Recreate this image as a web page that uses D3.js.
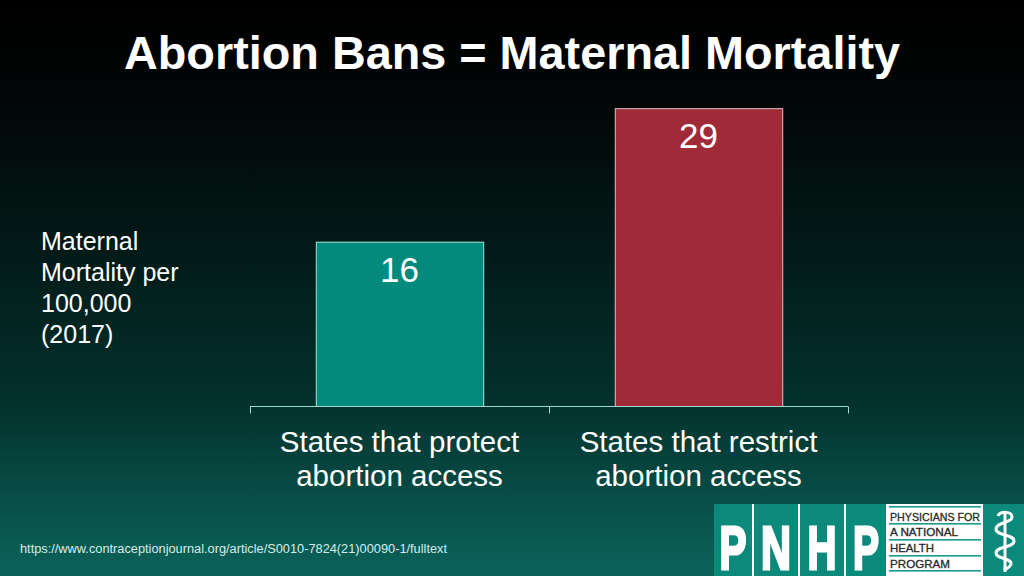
<!DOCTYPE html>
<html>
<head>
<meta charset="utf-8">
<script src="https://cdn.jsdelivr.net/npm/d3@7"></script>
<style>
  html, body { margin: 0; padding: 0; background: #000; }
  svg { display: block; }
</style>
</head>
<body>
<svg id="chart" width="1024" height="576"></svg>
<script>
const categories = ["States that protect abortion access", "States that restrict abortion access"];
const categoryLines = [["States that protect", "abortion access"], ["States that restrict", "abortion access"]];
const values = [16, 29];
const barColors = ["#028a7c", "#a12a38"];
const barStrokes = ["#a6e6dc", "#d9c3c3"];
const titleText = "Abortion Bans = Maternal Mortality";
const yLabelLines = ["Maternal", "Mortality per", "100,000", "(2017)"];
const sourceText = "https://www.contraceptionjournal.org/article/S0010-7824(21)00090-1/fulltext";
const logoLetters = ["P", "N", "H", "P"];
const logoWords = ["PHYSICIANS FOR", "A NATIONAL", "HEALTH", "PROGRAM"];

const svg = d3.select("#chart");
const W = 1024, H = 576;
const font = "'Liberation Sans', Arial, Helvetica, sans-serif";

// background gradient
const defs = svg.append("defs");
const grad = defs.append("linearGradient").attr("id", "bg")
  .attr("x1", 0).attr("y1", 0).attr("x2", 0).attr("y2", 1);
[[0, "#000000"], [0.17, "#020606"], [0.43, "#021a18"], [0.69, "#03302c"], [0.95, "#0a5c53"], [1, "#0b6158"]]
  .forEach(([o, c]) => grad.append("stop").attr("offset", o).attr("stop-color", c));
svg.append("rect").attr("width", W).attr("height", H).attr("fill", "url(#bg)");

// title
svg.append("text").attr("x", 512).attr("y", 69)
  .attr("text-anchor", "middle")
  .attr("font-family", font).attr("font-weight", "bold").attr("font-size", 46.5)
  .attr("fill", "#ffffff")
  .attr("textLength", 776).attr("lengthAdjust", "spacingAndGlyphs")
  .text(titleText);

// scales
const x = d3.scaleBand().domain(categories).range([250, 848])
  .paddingInner(0.44).paddingOuter(0.22);
const y = d3.scaleLinear().domain([0, 35]).range([406, 406 - 35 * 10.27]);

// bars
svg.selectAll("rect.bar").data(values).enter().append("rect")
  .attr("class", "bar")
  .attr("x", (d, i) => x(categories[i]) + 0.5)
  .attr("y", d => y(d) + 0.5)
  .attr("width", x.bandwidth())
  .attr("height", d => y(0) - y(d))
  .attr("fill", (d, i) => barColors[i])
  .attr("stroke", (d, i) => barStrokes[i])
  .attr("stroke-width", 1);

// value labels
svg.selectAll("text.val").data(values).enter().append("text")
  .attr("class", "val")
  .attr("x", (d, i) => x(categories[i]) + x.bandwidth() / 2)
  .attr("y", d => y(d) + 40)
  .attr("text-anchor", "middle")
  .attr("font-family", font).attr("font-size", 35)
  .attr("fill", "#ffffff")
  .text(d => d);

// x axis (band boundaries ticks)
const axisG = svg.append("g").attr("transform", "translate(0,406.5)");
axisG.append("line").attr("x1", 250).attr("x2", 848).attr("stroke", "#9ed8d0").attr("stroke-width", 1);
const tickPos = [250, 549, 848];
axisG.selectAll("line.tick").data(tickPos).enter().append("line")
  .attr("class", "tick")
  .attr("x1", d => d + 0.5).attr("x2", d => d + 0.5)
  .attr("y1", 0).attr("y2", 7)
  .attr("stroke", "#9ed8d0").attr("stroke-width", 1);

// category labels
categories.forEach((c, i) => {
  const cx = x(c) + x.bandwidth() / 2;
  const t = svg.append("text").attr("x", cx).attr("y", 452)
    .attr("text-anchor", "middle")
    .attr("font-family", font).attr("font-size", 29.5).attr("fill", "#ffffff");
  categoryLines[i].forEach((ln, j) => {
    t.append("tspan").attr("x", cx).attr("dy", j === 0 ? 0 : 34).text(ln);
  });
});

// y label
const yl = svg.append("text").attr("x", 41).attr("y", 250)
  .attr("font-family", font).attr("font-size", 25).attr("fill", "#ffffff");
yLabelLines.forEach((ln, j) => {
  yl.append("tspan").attr("x", 41).attr("dy", j === 0 ? 0 : 31).text(ln);
});

// source
svg.append("text").attr("x", 20).attr("y", 553)
  .attr("font-family", font).attr("font-size", 12.5).attr("fill", "#d6ece8")
  .attr("textLength", 427).attr("lengthAdjust", "spacingAndGlyphs")
  .text(sourceText);

// logo
const logo = svg.append("g");
logo.append("rect").attr("x", 714).attr("y", 504).attr("width", 310).attr("height", 72).attr("fill", "#0b8a7c");
const cells = [[715, 753], [753, 799], [799, 845], [845, 887]];
cells.slice(1).forEach(c => {
  logo.append("rect").attr("x", c[0] - 1).attr("y", 504).attr("width", 2).attr("height", 72).attr("fill", "#ffffff");
});
logo.append("rect").attr("x", 886).attr("y", 504).attr("width", 2).attr("height", 72).attr("fill", "#ffffff");
logoLetters.forEach((L, i) => {
  const [a, b] = cells[i];
  const wdt = [27, 30, 29, 26][i];
  logo.append("text").attr("x", (a + b) / 2 + (i === 0 ? -1 : 0) - wdt / 2).attr("y", 568.5)
    .attr("font-family", font).attr("font-weight", "bold").attr("font-size", 62)
    .attr("fill", "#ffffff").attr("stroke", "#ffffff").attr("stroke-width", 3)
    .attr("stroke-linejoin", "miter")
    .attr("textLength", wdt).attr("lengthAdjust", "spacingAndGlyphs")
    .text(L);
});
logo.append("rect").attr("x", 888).attr("y", 504).attr("width", 95).attr("height", 72).attr("fill", "#ffffff");
[507, 524, 540, 556, 571].forEach(ly => {
  logo.append("rect").attr("x", 889).attr("y", ly - 1).attr("width", 92).attr("height", 1.6).attr("fill", "#1a9a8c");
});
const wordBase = [521, 536, 552, 568];
const wordW = [90, 68, 44, 60];
logoWords.forEach((w, i) => {
  logo.append("text").attr("x", 890).attr("y", wordBase[i])
    .attr("font-family", font).attr("font-size", 10.5).attr("fill", "#2a2a2a")
    .attr("stroke", "#2a2a2a").attr("stroke-width", 0.3)
    .attr("textLength", wordW[i]).attr("lengthAdjust", "spacingAndGlyphs")
    .text(w);
});
// rod of asclepius
logo.append("line").attr("x1", 1005).attr("x2", 1005).attr("y1", 511).attr("y2", 572)
  .attr("stroke", "#ffffff").attr("stroke-width", 3);
logo.append("path")
  .attr("d", "M998,516 C1000,511 1012,511 1012,517 C1012,523 996,522 996,529 C996,536 1014,534 1014,541 C1014,548 996,546 996,553 C996,559 1012,558 1011,564 C1010,568 1005,569 1004,570")
  .attr("fill", "none").attr("stroke", "#ffffff").attr("stroke-width", 3);
</script>
</body>
</html>
